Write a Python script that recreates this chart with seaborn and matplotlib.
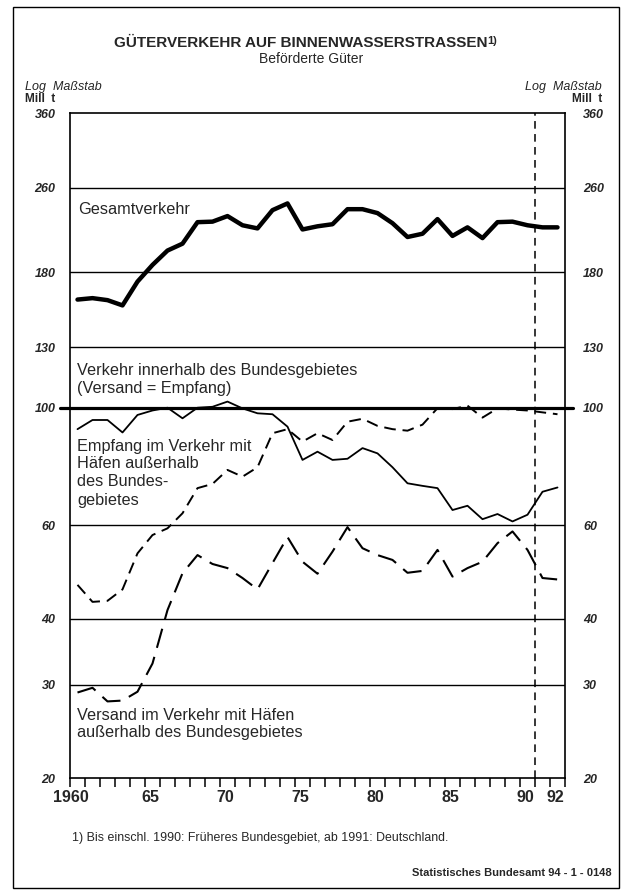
#!/usr/bin/env python3
## Gueterverkehr auf Binnenwasserstrassen - log chart, 1960-1992

import numpy as np
import pandas as pd
import matplotlib
matplotlib.use("Agg")
import matplotlib.pyplot as plt
import matplotlib.ticker as mticker
from matplotlib.patches import Rectangle
import seaborn as sns

years = list(range(1960, 1993))
gesamt = [160, 161, 159.6, 156, 173, 186, 198, 204, 224, 224.5, 230, 221, 218, 236, 243,
          217, 220, 222, 237, 237, 233, 223, 210, 213, 227, 211, 219, 209, 224, 224.5,
          221, 219, 219]
innerhalb = [91.1, 94.8, 94.8, 89.8, 96.9, 98.8, 100, 95.5, 100, 100.4, 102.7, 99.7, 97.6,
             97.2, 92.1, 79.7, 82.6, 79.7, 80.1, 83.9, 82.0, 77.2, 72.0, 71.2, 70.5, 64.1,
             65.3, 61.6, 63.0, 61.0, 62.8, 69.4, 70.7]
empfang = [46.3, 43.0, 43.2, 45.4, 53.1, 57.5, 59.2, 63.2, 70.5, 71.8, 76.3, 74.1, 77.2,
           89.5, 91.1, 86.3, 89.5, 86.9, 94.1, 95.3, 92.4, 91.1, 90.5, 92.9, 99.8, 99.4,
           100.9, 95.8, 99.7, 99.2, 98.8, 98.0, 97.2]
versand = [29.0, 29.6, 27.9, 28.0, 29.1, 32.9, 41.5, 48.7, 52.7, 50.7, 49.8, 47.7, 45.4,
           50.9, 57.0, 51.2, 48.6, 53.5, 59.5, 54.3, 52.7, 51.6, 48.8, 49.2, 53.9, 48.0,
           49.8, 51.2, 55.5, 58.4, 53.9, 47.7, 47.4]

y_ticks = [20, 30, 40, 60, 100, 130, 180, 260, 360]
x_labels = {1960: "1960", 1965: "65", 1970: "70", 1975: "75", 1980: "80",
            1985: "85", 1990: "90", 1992: "92"}

sns.set_theme(style="white")
plt.rcParams["font.family"] = ["Liberation Sans", "DejaVu Sans"]

W, H = 623, 893
fig = plt.figure(figsize=(W / 100, H / 100), dpi=100)


def fx(x):
    return x / W


def fy(y):
    return 1 - y / H


ax = fig.add_axes([fx(70), fy(778), fx(565) - fx(70), fy(113) - fy(778)])

df = pd.DataFrame({"jahr": np.array(years) + 0.5, "gesamt": gesamt,
                   "innerhalb": innerhalb, "empfang": empfang, "versand": versand})

sns.lineplot(data=df, x="jahr", y="gesamt", ax=ax, color="black", lw=3.2)
sns.lineplot(data=df, x="jahr", y="innerhalb", ax=ax, color="black", lw=1.3)
sns.lineplot(data=df, x="jahr", y="empfang", ax=ax, color="black", lw=1.4,
             linestyle=(0, (6, 3.5)))
sns.lineplot(data=df, x="jahr", y="versand", ax=ax, color="black", lw=1.5,
             linestyle=(0, (9.5, 4.5)))

ax.set_yscale("log")
ax.set_ylim(20, 360)
ax.set_xlim(1960, 1993)
ax.set_xlabel("")
ax.set_ylabel("")

# gridlines
for v in y_ticks[1:-1]:
    if v == 100:
        ax.axhline(v, xmin=-0.02, xmax=1.016, color="black", lw=2.3, clip_on=False, zorder=1)
    else:
        ax.axhline(v, color="black", lw=1.0, zorder=1)

ax.axvline(1991, color="black", lw=1.1, linestyle=(0, (5, 3.5)), zorder=1)

for s in ax.spines.values():
    s.set_color("black")
    s.set_linewidth(1.2)

# x axis: boundary ticks, labels near mid-year
label_pos = [k + 0.37 if k != 1960 else 1960.05 for k in x_labels]
ax.xaxis.set_minor_locator(mticker.FixedLocator(range(1960, 1994)))
ax.xaxis.set_major_locator(mticker.FixedLocator(label_pos))
ax.xaxis.set_major_formatter(mticker.FixedFormatter(list(x_labels.values())))
ax.tick_params(axis="x", which="minor", bottom=True, length=6.5, width=1.1,
               direction="out", color="black")
ax.tick_params(axis="x", which="major", bottom=True, length=0, pad=9, labelsize=11.5)
for t in ax.get_xticklabels():
    t.set_fontweight("bold")

# y axis both sides
ax.yaxis.set_major_locator(mticker.FixedLocator(y_ticks))
ax.yaxis.set_major_formatter(mticker.FixedFormatter([str(v) for v in y_ticks]))
ax.yaxis.set_minor_locator(mticker.NullLocator())
ax.tick_params(axis="y", which="major", left=False, length=0, pad=10.5, labelsize=9)
for t in ax.get_yticklabels():
    t.set_fontstyle("italic")
    t.set_fontweight("bold")

ax2 = ax.twinx()
ax2.set_yscale("log")
ax2.set_ylim(20, 360)
ax2.yaxis.set_major_locator(mticker.FixedLocator(y_ticks))
ax2.yaxis.set_major_formatter(mticker.FixedFormatter([str(v) for v in y_ticks]))
ax2.yaxis.set_minor_locator(mticker.NullLocator())
ax2.tick_params(axis="y", right=False, length=0, pad=13, labelsize=9)
for t in ax2.get_yticklabels():
    t.set_fontstyle("italic")
    t.set_fontweight("bold")
for s in ax2.spines.values():
    s.set_visible(False)

# titles and texts
fig.text(fx(301), fy(43), "GÜTERVERKEHR AUF BINNENWASSERSTRASSEN", ha="center",
         va="center", fontsize=11, fontweight="bold")
fig.text(fx(487.5), fy(41), "1)", ha="left", va="center", fontsize=8, fontweight="bold")
fig.text(fx(311), fy(59), "Beförderte Güter", ha="center", va="center", fontsize=10)

fig.text(fx(25), fy(87), "Log  Maßstab", ha="left", va="center", fontsize=9, style="italic")
fig.text(fx(25), fy(99), "Mill  t", ha="left", va="center", fontsize=8.5, fontweight="bold")
fig.text(fx(602), fy(87), "Log  Maßstab", ha="right", va="center", fontsize=9, style="italic")
fig.text(fx(602), fy(99), "Mill  t", ha="right", va="center", fontsize=8.5, fontweight="bold")

lab = dict(ha="left", va="center", fontsize=11.7)
fig.text(fx(78), fy(209), "Gesamtverkehr", **lab)
fig.text(fx(77), fy(370), "Verkehr innerhalb des Bundesgebietes", **lab)
fig.text(fx(77), fy(388), "(Versand = Empfang)", **lab)
fig.text(fx(77), fy(446), "Empfang im Verkehr mit", **lab)
fig.text(fx(77), fy(464), "Häfen außerhalb", **lab)
fig.text(fx(77), fy(482), "des Bundes-", **lab)
fig.text(fx(77), fy(500), "gebietes", **lab)
fig.text(fx(77), fy(715), "Versand im Verkehr mit Häfen", **lab)
fig.text(fx(77), fy(733), "außerhalb des Bundesgebietes", **lab)

fig.text(fx(72), fy(838), "1) Bis einschl. 1990: Früheres Bundesgebiet, ab 1991: Deutschland.",
         ha="left", va="center", fontsize=8.9)
fig.text(fx(612), fy(873), "Statistisches Bundesamt 94 - 1 - 0148", ha="right",
         va="center", fontsize=8, fontweight="bold")

fig.add_artist(Rectangle((fx(13), fy(888)), fx(619) - fx(13), fy(7) - fy(888),
                         transform=fig.transFigure, fill=False, ec="black", lw=1.0))

fig.savefig("out.png", dpi=100)
plt.close(fig)
